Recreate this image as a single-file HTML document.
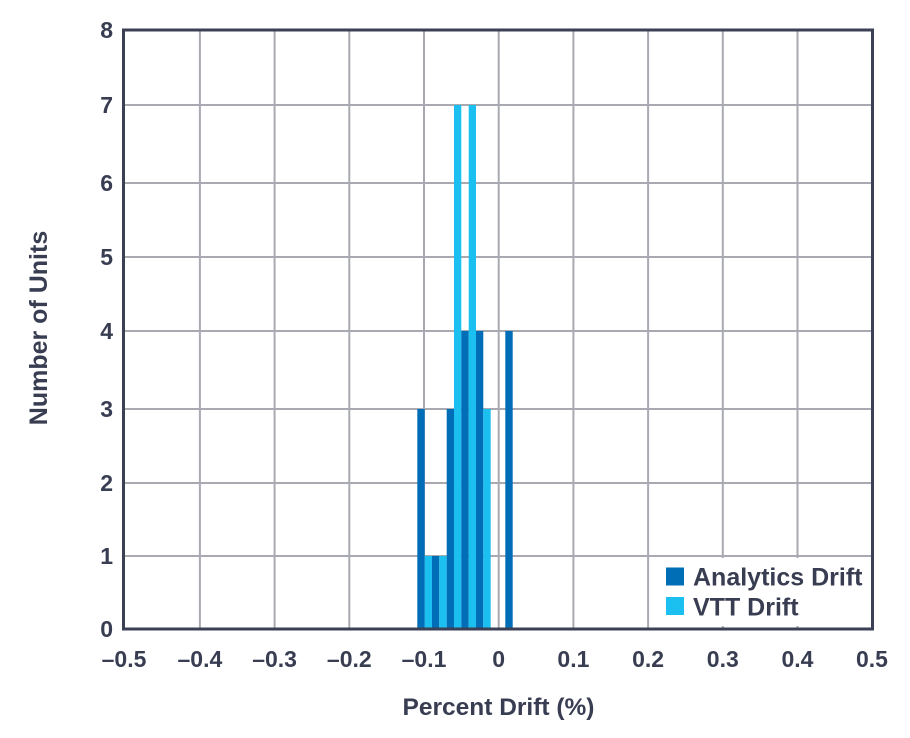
<!DOCTYPE html>
<html>
<head>
<meta charset="utf-8">
<style>
  html, body { margin: 0; padding: 0; background: #ffffff; }
  svg { display: block; }
  text { font-family: "Liberation Sans", Arial, sans-serif; font-weight: bold; fill: #383d52; }
</style>
</head>
<body>
<svg width="910" height="738" viewBox="0 0 910 738" xmlns="http://www.w3.org/2000/svg">
  <rect x="0" y="0" width="910" height="738" fill="#ffffff"/>
  <!-- gridlines -->
  <g stroke="#a9a9b2" stroke-width="2">
    <line x1="199.9" y1="30" x2="199.9" y2="629"/>
    <line x1="274.6" y1="30" x2="274.6" y2="629"/>
    <line x1="349.3" y1="30" x2="349.3" y2="629"/>
    <line x1="424" y1="30" x2="424" y2="629"/>
    <line x1="498.7" y1="30" x2="498.7" y2="629"/>
    <line x1="573.4" y1="30" x2="573.4" y2="629"/>
    <line x1="648.1" y1="30" x2="648.1" y2="629"/>
    <line x1="722.8" y1="30" x2="722.8" y2="629"/>
    <line x1="797.5" y1="30" x2="797.5" y2="629"/>
    <line x1="123" y1="105" x2="873" y2="105"/>
    <line x1="123" y1="183" x2="873" y2="183"/>
    <line x1="123" y1="257" x2="873" y2="257"/>
    <line x1="123" y1="331" x2="873" y2="331"/>
    <line x1="123" y1="409" x2="873" y2="409"/>
    <line x1="123" y1="483" x2="873" y2="483"/>
    <line x1="123" y1="556" x2="873" y2="556"/>
  </g>
  <!-- legend background -->
  <rect x="649.5" y="558" width="222" height="68" fill="#ffffff"/>
  <!-- bars -->
  <g>
    <rect x="417.3" y="409" width="7.4" height="220" fill="#006eb6"/>
    <rect x="424.7" y="556" width="7.3" height="73" fill="#1bbff0"/>
    <rect x="432" y="556" width="7.3" height="73" fill="#006eb6"/>
    <rect x="439.3" y="556" width="7.4" height="73" fill="#1bbff0"/>
    <rect x="446.7" y="409" width="7.3" height="220" fill="#006eb6"/>
    <rect x="454" y="105" width="7.3" height="524" fill="#1bbff0"/>
    <rect x="461.3" y="331" width="7.4" height="298" fill="#006eb6"/>
    <rect x="468.7" y="105" width="7.3" height="524" fill="#1bbff0"/>
    <rect x="476" y="331" width="7.3" height="298" fill="#006eb6"/>
    <rect x="483.3" y="409" width="7.4" height="220" fill="#1bbff0"/>
    <rect x="505.3" y="331" width="7.4" height="298" fill="#006eb6"/>
  </g>
  <!-- axes frame -->
  <rect x="123.5" y="30" width="749" height="599" fill="none" stroke="#3b4055" stroke-width="3"/>
  <!-- legend -->
  <rect x="666" y="567.5" width="18" height="18" fill="#006eb6"/>
  <rect x="666" y="597" width="18" height="18" fill="#1bbff0"/>
  <text x="693" y="585.7" font-size="25">Analytics Drift</text>
  <text x="693" y="615.7" font-size="25">VTT Drift</text>
  <!-- y tick labels -->
  <g font-size="23" text-anchor="end">
    <text x="113" y="38">8</text>
    <text x="113" y="113">7</text>
    <text x="113" y="191">6</text>
    <text x="113" y="265">5</text>
    <text x="113" y="339">4</text>
    <text x="113" y="417">3</text>
    <text x="113" y="491">2</text>
    <text x="113" y="564">1</text>
    <text x="113" y="637">0</text>
  </g>
  <!-- x tick labels -->
  <g font-size="23" text-anchor="middle">
    <text x="124" y="667">–0.5</text>
    <text x="199.9" y="667">–0.4</text>
    <text x="274.6" y="667">–0.3</text>
    <text x="349.3" y="667">–0.2</text>
    <text x="424" y="667">–0.1</text>
    <text x="498.7" y="667">0</text>
    <text x="573.4" y="667">0.1</text>
    <text x="648.1" y="667">0.2</text>
    <text x="722.8" y="667">0.3</text>
    <text x="797.5" y="667">0.4</text>
    <text x="872" y="667">0.5</text>
  </g>
  <!-- axis titles -->
  <text x="498.5" y="715" font-size="24.5" text-anchor="middle">Percent Drift (%)</text>
  <text transform="translate(47,328) rotate(-90)" font-size="25" text-anchor="middle">Number of Units</text>
</svg>
</body>
</html>
